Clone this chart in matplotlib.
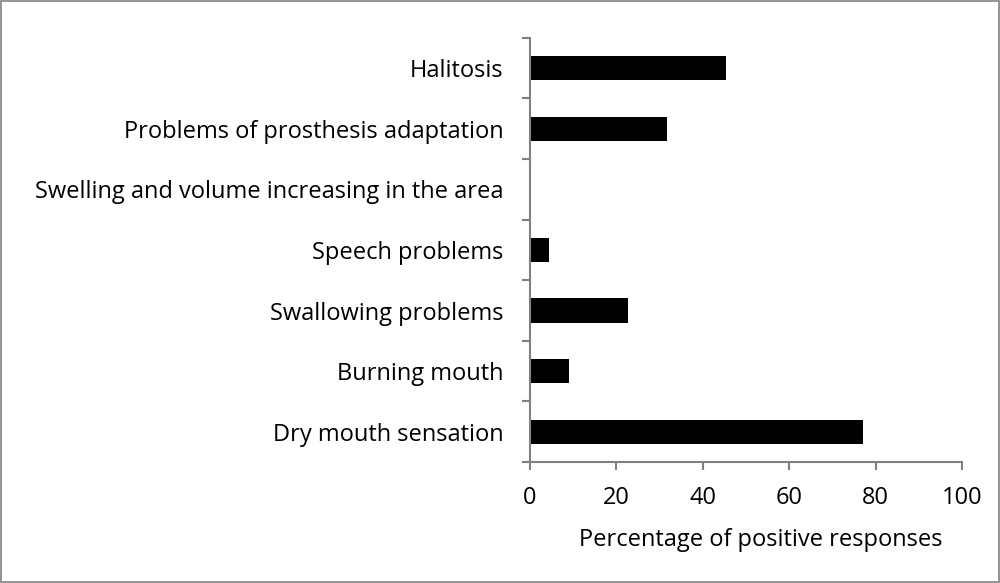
import matplotlib
matplotlib.use('Agg')
import matplotlib.pyplot as plt
from matplotlib.patches import Rectangle

# symptoms, bottom to top
symptoms = ['Dry mouth sensation', 'Burning mouth', 'Swallowing problems',
            'Speech problems', 'Swelling and volume increasing in the area',
            'Problems of prosthesis adaptation', 'Halitosis']
percent = [77.1, 9.0, 22.7, 4.4, 0.0, 31.7, 45.4]
x_ticks = [0, 20, 40, 60, 80, 100]

plt.rcParams['font.family'] = ['Open Sans', 'DejaVu Sans']
fs = 17

fig = plt.figure(figsize=(10, 5.83), dpi=100)
ax = fig.add_axes([0.530, 0.2075, 0.432, 0.7275])

pos = list(range(len(symptoms)))
ax.barh(pos, percent, height=0.4, color='black')

ax.set_xlim(0, 100)
ax.set_ylim(-0.5, len(symptoms) - 0.5)
ax.set_xticks(x_ticks)
ax.set_xticklabels([str(t) for t in x_ticks], fontsize=fs)

# category labels centred, ticks on the boundaries
ax.set_yticks(pos)
ax.set_yticklabels(symptoms, fontsize=fs)
ax.tick_params(axis='y', which='major', length=0, pad=19)
ax.set_yticks([p - 0.5 for p in range(len(symptoms) + 1)], minor=True)
ax.tick_params(axis='y', which='minor', length=6, width=1.5, color='#808080', direction='out')
ax.tick_params(axis='x', length=6, width=1.5, color='#808080', direction='out', pad=11)

for s in ['top', 'right']:
    ax.spines[s].set_visible(False)
for s in ['left', 'bottom']:
    ax.spines[s].set_color('#808080')
    ax.spines[s].set_linewidth(1.5)

ax.set_xlabel('Percentage of positive responses', fontsize=fs, labelpad=13)
ax.xaxis.label.set_x(0.535)

fig.patches.append(Rectangle((0.001, 0.001), 0.998, 0.997, transform=fig.transFigure,
                             fill=False, edgecolor='#808080', linewidth=1.2))

fig.savefig('out.png', dpi=100)
